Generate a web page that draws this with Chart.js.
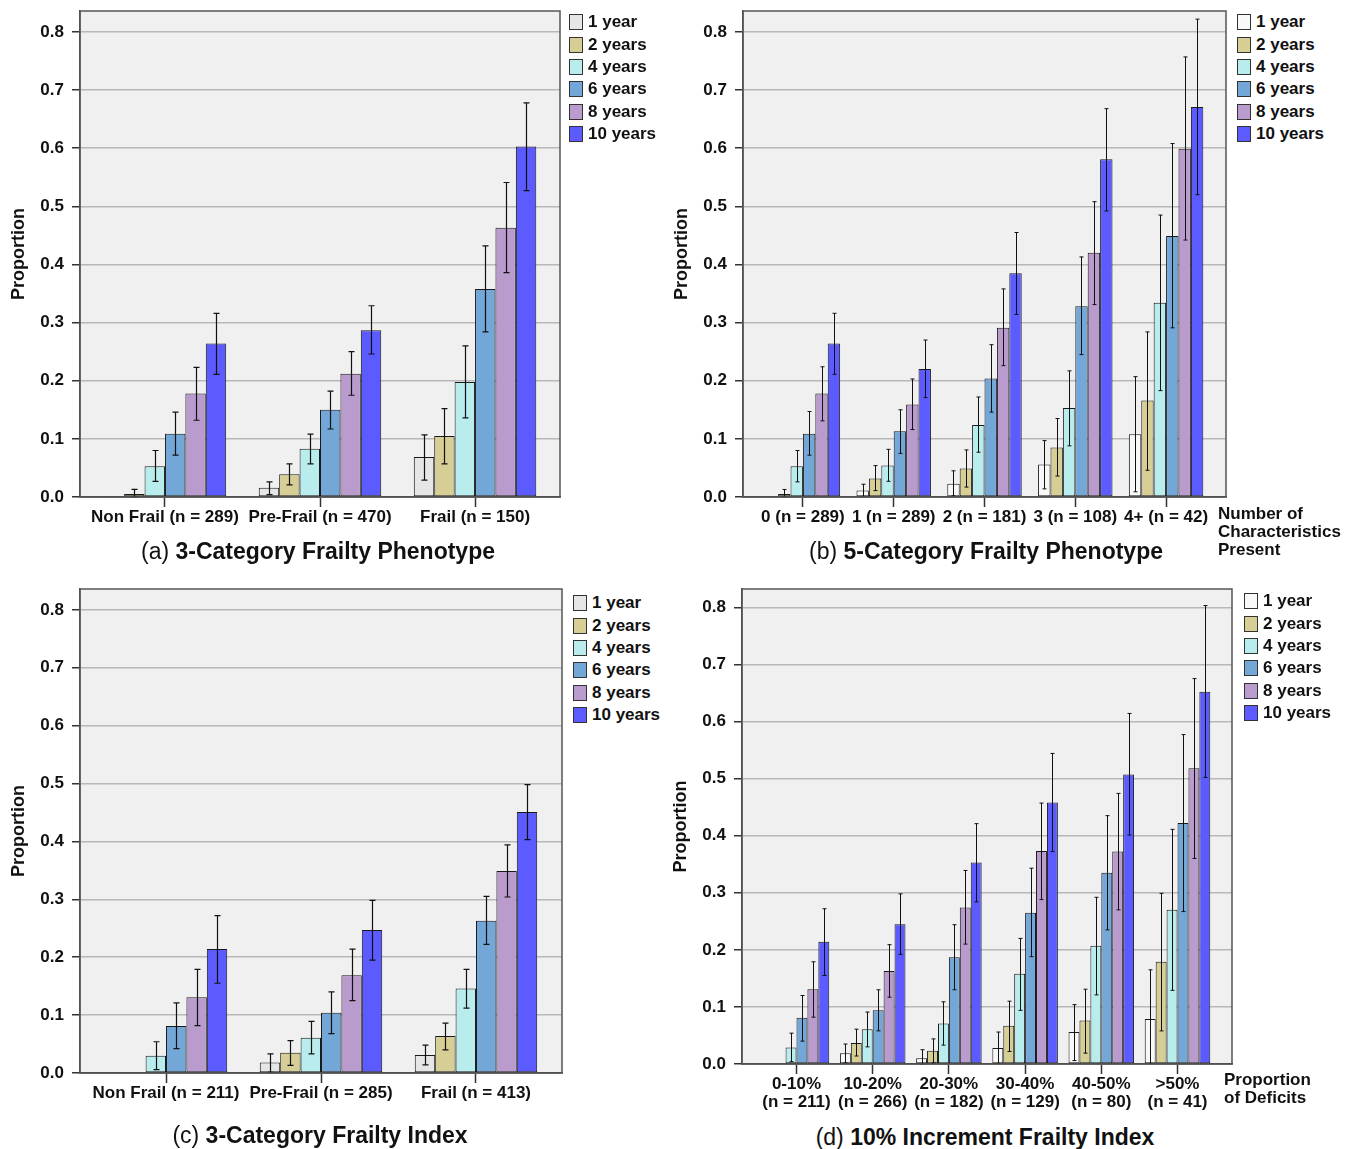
<!DOCTYPE html>
<html><head><meta charset="utf-8">
<script src="https://cdn.jsdelivr.net/npm/chart.js@4.4.1/dist/chart.umd.min.js"></script>
<style>
body{margin:0;background:#fff;width:1358px;height:1149px;position:relative;overflow:hidden;font-family:"Liberation Sans",Arial,sans-serif;color:#111}
canvas{position:absolute}
.lg{position:absolute;font-weight:bold;font-size:17px}
.lg .it{height:22.4px;display:flex;align-items:center;white-space:nowrap}
.lg .bx{display:inline-block;width:14px;height:16px;border:1px solid #333;box-sizing:border-box;margin-right:5px}
.ttl{position:absolute;transform:translate(-50%,-50%);white-space:nowrap;font-size:23px}
.ttl b{font-weight:bold}
.note{position:absolute;font-weight:bold;font-size:17px;line-height:18px;white-space:nowrap}
</style></head><body>
<script>
// ---------- data ----------
const seriesNames = ['1 year','2 years','4 years','6 years','8 years','10 years'];
const yTickLabels = ['0.0','0.1','0.2','0.3','0.4','0.5','0.6','0.7','0.8'];

const catsA = ['Non Frail (n = 289)','Pre-Frail (n = 470)','Frail (n = 150)'];
const valA = [[0.001,0.016,0.069],[0.005,0.039,0.105],[0.053,0.083,0.198],[0.109,0.150,0.358],[0.178,0.212,0.463],[0.264,0.287,0.603]];
const loA  = [[null,0.004,0.029],[0.000,0.021,0.057],[0.027,0.057,0.136],[0.072,0.117,0.284],[0.132,0.175,0.386],[0.211,0.246,0.527]];
const hiA  = [[null,0.026,0.107],[0.013,0.057,0.152],[0.080,0.108,0.260],[0.146,0.182,0.432],[0.223,0.250,0.541],[0.316,0.329,0.678]];

const catsB = ['0 (n = 289)','1 (n = 289)','2 (n = 181)','3 (n = 108)','4+ (n = 42)'];
const valB = [[0.001,0.011,0.023,0.056,0.108],[0.005,0.032,0.049,0.085,0.166],[0.053,0.054,0.124,0.153,0.334],[0.109,0.113,0.204,0.328,0.449],[0.178,0.159,0.291,0.420,0.599],[0.264,0.220,0.385,0.581,0.671]];
const loB  = [[null,0.001,0.002,0.014,0.009],[0.000,0.011,0.017,0.036,0.046],[0.026,0.027,0.077,0.088,0.183],[0.072,0.075,0.146,0.245,0.291],[0.131,0.116,0.226,0.331,0.442],[0.211,0.171,0.314,0.492,0.520]];
const hiB  = [[null,0.022,0.045,0.097,0.207],[0.013,0.054,0.081,0.135,0.284],[0.080,0.082,0.172,0.217,0.485],[0.147,0.150,0.262,0.413,0.608],[0.224,0.203,0.358,0.508,0.757],[0.316,0.270,0.455,0.668,0.822]];

const catsC = ['Non Frail (n = 211)','Pre-Frail (n = 285)','Frail (n = 413)'];
const valC = [[0,0.018,0.031],[0,0.035,0.064],[0.030,0.061,0.146],[0.081,0.104,0.263],[0.131,0.169,0.349],[0.214,0.247,0.451]];
const loC  = [[null,0.001,0.014],[null,0.013,0.040],[0.006,0.033,0.112],[0.042,0.068,0.222],[0.082,0.125,0.304],[0.155,0.195,0.403]];
const hiC  = [[null,0.033,0.048],[null,0.056,0.086],[0.054,0.089,0.179],[0.121,0.140,0.305],[0.179,0.214,0.394],[0.272,0.298,0.498]];

const catsD = [['0-10%','(n = 211)'],['10-20%','(n = 266)'],['20-30%','(n = 182)'],['30-40%','(n = 129)'],['40-50%','(n = 80)'],['>50%','(n = 41)']];
const valD = [[0,0.019,0.010,0.028,0.056,0.079],[0,0.037,0.023,0.067,0.076,0.179],[0.029,0.061,0.071,0.158,0.207,0.270],[0.081,0.094,0.187,0.265,0.335,0.422],[0.131,0.163,0.274,0.373,0.372,0.518],[0.214,0.245,0.353,0.458,0.507,0.652]];
const loD  = [[null,0.002,0.000,0.001,0.006,0.001],[null,0.014,0.002,0.022,0.019,0.058],[0.004,0.030,0.033,0.094,0.121,0.129],[0.040,0.058,0.130,0.188,0.235,0.267],[0.082,0.117,0.210,0.288,0.270,0.360],[0.155,0.192,0.284,0.372,0.401,0.502]];
const hiD  = [[null,0.035,0.025,0.056,0.104,0.165],[null,0.061,0.044,0.110,0.131,0.299],[0.054,0.091,0.109,0.220,0.292,0.411],[0.120,0.130,0.244,0.343,0.435,0.577],[0.179,0.209,0.339,0.457,0.474,0.675],[0.272,0.298,0.421,0.544,0.614,0.803]];

const colorsAC = ['#e6e6e6','#d6ce94','#b9ecec','#73a7d8','#b99ccd','#5b5bff'];
const colorsBD = ['#f8f8f8','#d6ce94','#b9ecec','#73a7d8','#b99ccd','#5b5bff'];

// ---------- plugins ----------
const framePlugin = {
  id:'frame',
  beforeDraw(chart){
    const {ctx, chartArea:a} = chart;
    ctx.save(); ctx.fillStyle='#f0f0f0'; ctx.fillRect(a.left,a.top,a.right-a.left,a.bottom-a.top); ctx.restore();
  },
  afterDraw(chart){
    const {ctx, chartArea:a} = chart;
    ctx.save(); ctx.strokeStyle='#555'; ctx.lineWidth=1.5;
    ctx.strokeRect(a.left,a.top,a.right-a.left,a.bottom-a.top); ctx.restore();
  }
};
const errorPlugin = {
  id:'errorBars',
  afterDatasetsDraw(chart, args, opts){
    const ctx = chart.ctx, ys = chart.scales.y;
    chart.data.datasets.forEach((ds, di) => {
      const meta = chart.getDatasetMeta(di);
      meta.data.forEach((bar, i) => {
        const lo = ds.errLo[i], hi = ds.errHi[i];
        if (lo == null || hi == null) return;
        const x = Math.round(bar.x) + 0.5;
        const yt = ys.getPixelForValue(hi), yb = ys.getPixelForValue(lo);
        const c = opts.cap || 2.5;
        ctx.save(); ctx.strokeStyle = '#111'; ctx.lineWidth = opts.width || 1;
        ctx.beginPath();
        ctx.moveTo(x, yt); ctx.lineTo(x, yb);
        ctx.moveTo(x - c, yt); ctx.lineTo(x + c, yt);
        ctx.moveTo(x - c, yb); ctx.lineTo(x + c, yb);
        ctx.stroke(); ctx.restore();
      });
    });
  }
};

Chart.defaults.font.family = '"Liberation Sans", Arial, sans-serif';
Chart.defaults.font.size = 17;
Chart.defaults.font.weight = 'bold';
Chart.defaults.color = '#111';

function makeChart(cfg){
  const cv = document.createElement('canvas');
  cv.width = cfg.box.w; cv.height = cfg.box.h;
  cv.style.left = cfg.box.x + 'px'; cv.style.top = cfg.box.y + 'px';
  cv.style.width = cfg.box.w + 'px'; cv.style.height = cfg.box.h + 'px';
  document.body.appendChild(cv);
  const p = cfg.plot;
  const xh = cfg.box.y + cfg.box.h - p.b;
  const datasets = seriesNames.map((name, s) => ({
    label: name,
    data: cfg.vals[s].map((v, i) => ({x: i, y: v})),
    errLo: cfg.lo[s], errHi: cfg.hi[s],
    backgroundColor: cfg.colors[s], borderColor: '#1a1a1a', borderWidth: 1, borderSkipped: false,
    categoryPercentage: cfg.catPct, barPercentage: 1
  }));
  new Chart(cv, {
    type:'bar',
    data:{ datasets },
    options:{
      responsive:false, animation:false, devicePixelRatio:1,
      layout:{ padding:{ left: p.l - cfg.box.x - 80, top: p.t - cfg.box.y, right: cfg.box.x + cfg.box.w - p.r, bottom: 0 } },
      plugins:{ legend:{display:false}, tooltip:{enabled:false}, errorBars:{ width: cfg.ew, cap: cfg.cap } },
      scales:{
        x:{ type:'linear', min: cfg.xr[0], max: cfg.xr[1], offset:false,
          afterFit: s => { s.height = xh; s.paddingLeft = 0; s.paddingRight = 0; },
          grid:{ display:true, drawOnChartArea:false, drawTicks:true, tickLength:10, tickColor:'#333', tickWidth:1.5, offset:false },
          border:{ display:true, color:'#444', width:1.5 },
          ticks:{ stepSize:1, includeBounds:false, autoSkip:false, maxRotation:0, minRotation:0, padding: cfg.xpad,
            font:{ size:17, weight:'bold', lineHeight:1.06 }, color:'#111',
            callback: v => cfg.cats[Math.round(v)] }
        },
        y:{ min:0, max: cfg.ymax,
          afterFit: s => { s.width = 80; s.paddingTop = 0; s.paddingBottom = 0; },
          grid:{ color:'#b8b8b8', lineWidth:1.5, tickLength:8, tickColor:'#333', tickWidth:1.5 },
          border:{ display:true, color:'#444', width:1.5 },
          ticks:{ stepSize:0.1, includeBounds:false, padding:8, color:'#111',
            font:{ size:17, weight:'bold' },
            callback: v => yTickLabels[Math.round(v*10)] },
          title:{ display:true, text:'Proportion', color:'#111', font:{ size:18, weight:'bold' }, padding:{top:8,bottom:0} }
        }
      }
    },
    plugins:[framePlugin, errorPlugin]
  });
  // legend (HTML)
  const lg = document.createElement('div');
  lg.className = 'lg'; lg.style.left = cfg.leg.x + 'px'; lg.style.top = cfg.leg.y + 'px';
  seriesNames.forEach((n, s) => {
    const it = document.createElement('div'); it.className = 'it';
    const bx = document.createElement('span'); bx.className = 'bx'; bx.style.background = cfg.colors[s];
    it.appendChild(bx); it.appendChild(document.createTextNode(n)); lg.appendChild(it);
  });
  document.body.appendChild(lg);
  // title
  const t = document.createElement('div'); t.className = 'ttl';
  t.style.left = cfg.title.x + 'px'; t.style.top = cfg.title.y + 'px';
  t.innerHTML = cfg.title.tag + ' <b>' + cfg.title.text + '</b>';
  document.body.appendChild(t);
  if (cfg.note){
    const nt = document.createElement('div'); nt.className = 'note';
    nt.style.left = cfg.note.x + 'px'; nt.style.top = cfg.note.y + 'px';
    nt.innerHTML = cfg.note.lines.join('<br>');
    document.body.appendChild(nt);
  }
}

makeChart({ box:{x:0,y:0,w:570,h:545}, plot:{l:80,t:11,r:560,b:497}, cats:catsA, vals:valA, lo:loA, hi:hiA,
  colors:colorsAC, xr:[-0.548,2.548], ymax:0.836, catPct:0.79, xpad:1, ew:1.2, cap:3,
  leg:{x:569,y:11}, title:{x:318,y:551,tag:'(a)',text:'3-Category Frailty Phenotype'} });
makeChart({ box:{x:663,y:0,w:573,h:545}, plot:{l:743,t:11,r:1226,b:497}, cats:catsB, vals:valB, lo:loB, hi:hiB,
  colors:colorsBD, xr:[-0.66,4.66], ymax:0.836, catPct:0.82, xpad:1, ew:1, cap:2,
  leg:{x:1237,y:11}, title:{x:986,y:551,tag:'(b)',text:'5-Category Frailty Phenotype'},
  note:{x:1218,y:505,lines:['Number of','Characteristics','Present']} });
makeChart({ box:{x:0,y:578,w:572,h:545}, plot:{l:80,t:589,r:562,b:1073}, cats:catsC, vals:valC, lo:loC, hi:hiC,
  colors:colorsAC, xr:[-0.555,2.555], ymax:0.836, catPct:0.79, xpad:1, ew:1.2, cap:3,
  leg:{x:573,y:592}, title:{x:320,y:1135,tag:'(c)',text:'3-Category Frailty Index'} });
makeChart({ box:{x:662,y:578,w:580,h:545}, plot:{l:742,t:589,r:1232,b:1064}, cats:catsD, vals:valD, lo:loD, hi:hiD,
  colors:colorsBD, xr:[-0.715,5.715], ymax:0.832, catPct:0.86, xpad:1, ew:1, cap:2,
  leg:{x:1244,y:590}, title:{x:985,y:1137,tag:'(d)',text:'10% Increment Frailty Index'},
  note:{x:1224,y:1071,lines:['Proportion','of Deficits']} });
</script>
</body></html>
